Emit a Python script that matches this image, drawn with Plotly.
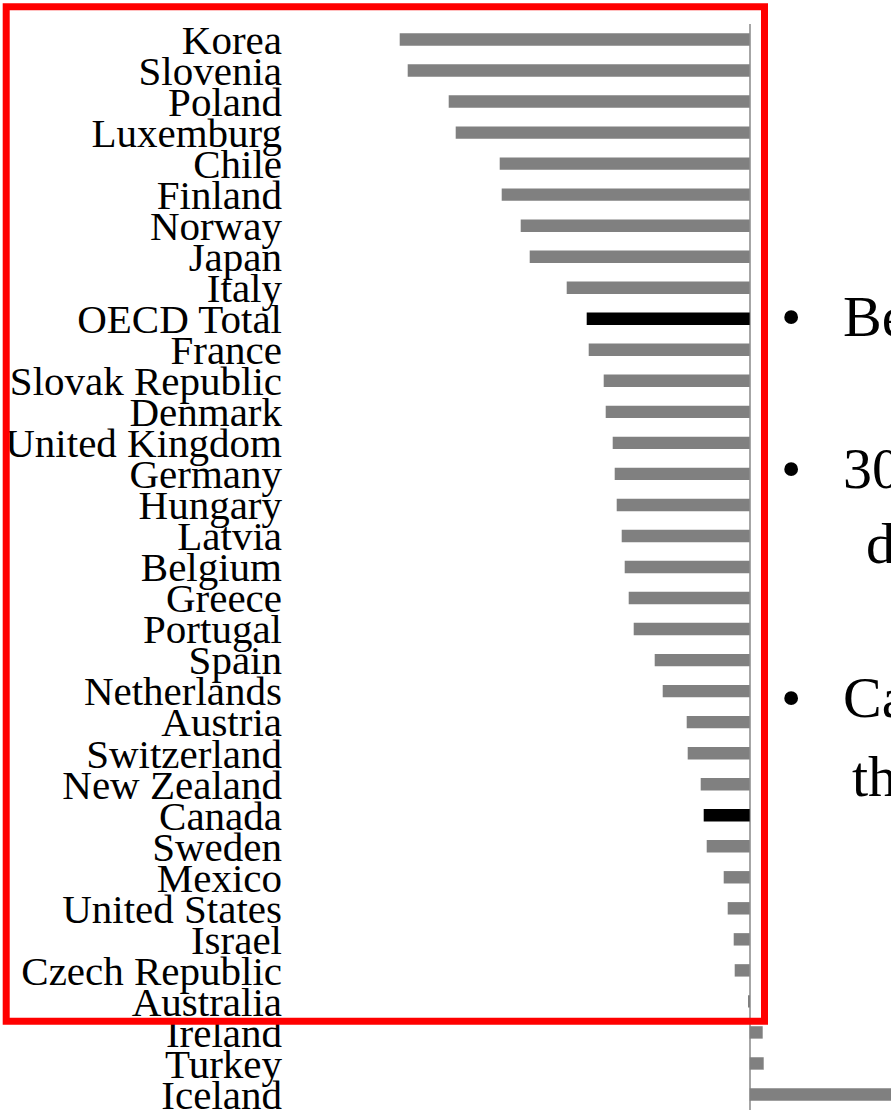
import plotly.graph_objects as go

countries = ["Korea", "Slovenia", "Poland", "Luxemburg", "Chile", "Finland", "Norway",
             "Japan", "Italy", "OECD Total", "France", "Slovak Republic", "Denmark",
             "United Kingdom", "Germany", "Hungary", "Latvia", "Belgium", "Greece",
             "Portugal", "Spain", "Netherlands", "Austria", "Switzerland", "New Zealand",
             "Canada", "Sweden", "Mexico", "United States", "Israel", "Czech Republic",
             "Australia", "Ireland", "Turkey", "Iceland"]
values = [-35.0, -34.2, -30.1, -29.4, -25.0, -24.8, -22.9, -22.0, -18.3, -16.3,
          -16.1, -14.6, -14.4, -13.7, -13.5, -13.3, -12.8, -12.5, -12.1, -11.6,
          -9.5, -8.7, -6.3, -6.2, -4.9, -4.6, -4.3, -2.6, -2.2, -1.6, -1.5,
          -0.1, 1.3, 1.4, 18.0]
highlight = ["OECD Total", "Canada"]

bullet_lines = ["Be", "30", "Ca"]
continuation_lines = ["d", "th"]

W, H = 891, 1118
L, T = 288, 24
PW, PH = W - L, H - T

def px_x(x):
    return (x - L) / PW

def px_y(y):
    return 1 - (y - T) / PH

colors = ["#000000" if c in highlight else "#808080" for c in countries]

fig = go.Figure(go.Bar(
    x=values, y=countries, orientation="h",
    marker=dict(color=colors, line=dict(width=0)),
))

serif = "Liberation Serif"
zero_px = 749.7
scale = 10.0
xmin = -(zero_px - L) / scale
xmax = xmin + PW / scale

fig.update_layout(
    width=W, height=H,
    margin=dict(l=L, r=0, t=T, b=0, pad=0),
    paper_bgcolor="white", plot_bgcolor="white",
    bargap=0.6,
    showlegend=False,
    font=dict(family=serif, color="black"),
    xaxis=dict(range=[xmin, xmax], showgrid=False, showticklabels=False,
               zeroline=True, zerolinecolor="#a6a6a6", zerolinewidth=1.5,
               showline=False, ticks=""),
    yaxis=dict(type="category", range=[len(countries) - 0.5, -0.5],
               tickmode="array", tickvals=countries, ticktext=countries,
               showgrid=False, zeroline=False, showline=False, ticks="",
               ticklabelstandoff=5,
               tickfont=dict(family=serif, size=41, color="black")),
)

fig.add_shape(type="rect", xref="paper", yref="paper",
              x0=px_x(6.2), x1=px_x(764.5), y0=px_y(1028.5), y1=px_y(6.5),
              line=dict(color="#ff0000", width=7), layer="above")

bullet_y = [318.5, 472, 702.5]
for txt, yc in zip(bullet_lines, bullet_y):
    fig.add_annotation(xref="paper", yref="paper", x=px_x(790.7), y=px_y(yc),
                       text="•", showarrow=False, xanchor="center", yanchor="middle",
                       font=dict(family=serif, size=58, color="black"))
    fig.add_annotation(xref="paper", yref="paper", x=px_x(841), y=px_y(yc),
                       text=txt, showarrow=False, xanchor="left", yanchor="middle",
                       font=dict(family=serif, size=58, color="black"))

cont_x = [864, 850]
cont_y = [547, 782]
for txt, xx, yc in zip(continuation_lines, cont_x, cont_y):
    fig.add_annotation(xref="paper", yref="paper", x=px_x(xx), y=px_y(yc),
                       text=txt, showarrow=False, xanchor="left", yanchor="middle",
                       font=dict(family=serif, size=58, color="black"))

fig.write_html("out.html", config={"displayModeBar": False},
               post_script="document.body.style.margin='0px';")
